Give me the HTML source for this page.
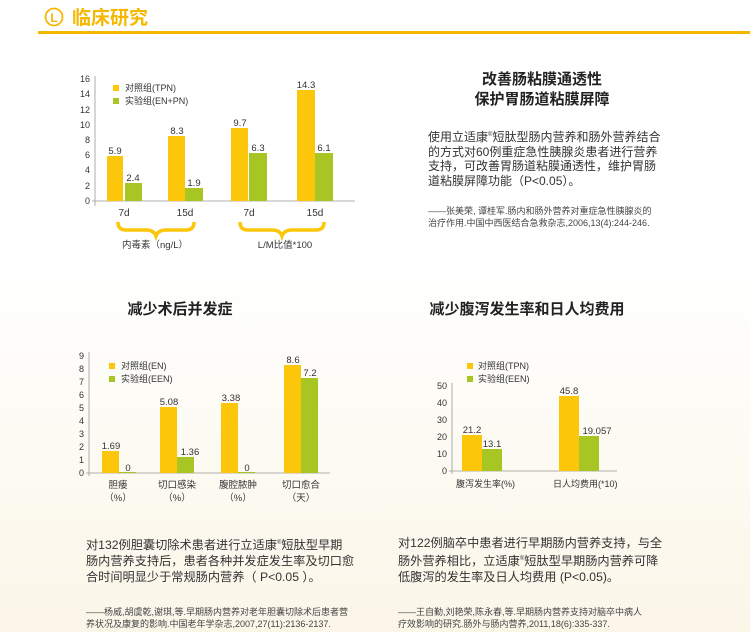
<!DOCTYPE html>
<html><head><meta charset="utf-8"><style>
body{margin:0;width:750px;height:632px;overflow:hidden;background:linear-gradient(#fff 0,#fff 40%,#fbf6e8 100%);font-family:"Liberation Sans","Noto Sans CJK SC",sans-serif;position:relative;color:#222}
.t{position:absolute;white-space:nowrap}
</style></head><body>
<svg width="750" height="632" style="position:absolute;left:0;top:0" font-family="Liberation Sans, Noto Sans CJK SC, sans-serif">
<circle cx="54" cy="17" r="8.5" fill="none" stroke="#f5b800" stroke-width="1.8"/>
<text x="54" y="22" font-size="12" font-weight="bold" fill="#f5b800" text-anchor="middle">L</text>
<text x="72" y="24" font-size="19" font-weight="bold" fill="#f5b800">临床研究</text>
<rect x="38" y="31" width="712" height="3" fill="#f5b800"/>

<g font-size="9" fill="#333">
<line x1="95" y1="76" x2="95" y2="206" stroke="#999" stroke-width="0.8"/>
<line x1="92" y1="201" x2="355" y2="201" stroke="#999" stroke-width="0.8"/>
<g text-anchor="end">
<text x="90" y="204">0</text><text x="90" y="189">2</text><text x="90" y="173">4</text><text x="90" y="158">6</text><text x="90" y="143">8</text><text x="90" y="128">10</text><text x="90" y="113">12</text><text x="90" y="97">14</text><text x="90" y="82">16</text>
</g>
<rect x="107" y="156" width="16" height="45" fill="#fcc60a"/><rect x="125" y="183" width="17" height="18" fill="#a8c623"/>
<rect x="168" y="136" width="17" height="65" fill="#fcc60a"/><rect x="185" y="188" width="18" height="13" fill="#a8c623"/>
<rect x="231" y="128" width="17" height="73" fill="#fcc60a"/><rect x="249" y="153" width="18" height="48" fill="#a8c623"/>
<rect x="297" y="90" width="18" height="111" fill="#fcc60a"/><rect x="315" y="153" width="18" height="48" fill="#a8c623"/>
<g text-anchor="middle" font-size="9.5">
<text x="115" y="154">5.9</text><text x="133" y="181">2.4</text>
<text x="177" y="134">8.3</text><text x="194" y="186">1.9</text>
<text x="240" y="126">9.7</text><text x="258" y="151">6.3</text>
<text x="306" y="88">14.3</text><text x="324" y="151">6.1</text>
<text x="124" y="216" font-size="10">7d</text><text x="185" y="216" font-size="10">15d</text>
<text x="249" y="216" font-size="10">7d</text><text x="315" y="216" font-size="10">15d</text>
<text x="155" y="248">内毒素（ng/L）</text><text x="285" y="248">L/M比值*100</text>
</g>
<rect x="113" y="85" width="6" height="6" fill="#fcc60a"/><text x="125" y="91">对照组(TPN)</text>
<rect x="113" y="98" width="6" height="6" fill="#a8c623"/><text x="125" y="104">实验组(EN+PN)</text>
<path d="M118 222 q0 8 8 8 h20 q8 0 10 6 q2 -6 10 -6 h20 q8 0 8 -8" fill="none" stroke="#fcc60a" stroke-width="3.5"/>
<path d="M240 222 q0 8 8 8 h24 q8 0 10 6 q2 -6 10 -6 h24 q8 0 8 -8" fill="none" stroke="#fcc60a" stroke-width="3.5"/>
</g>

<g font-size="9" fill="#333">
<line x1="89" y1="352" x2="89" y2="476" stroke="#999" stroke-width="0.8"/>
<line x1="86" y1="473" x2="330" y2="473" stroke="#999" stroke-width="0.8"/>
<g text-anchor="end">
<text x="84" y="476">0</text><text x="84" y="463">1</text><text x="84" y="450">2</text><text x="84" y="437">3</text><text x="84" y="424">4</text><text x="84" y="411">5</text><text x="84" y="398">6</text><text x="84" y="385">7</text><text x="84" y="372">8</text><text x="84" y="359">9</text>
</g>
<rect x="102" y="451" width="17" height="22" fill="#fcc60a"/><rect x="119" y="472" width="17" height="1" fill="#a8c623"/>
<rect x="160" y="407" width="17" height="66" fill="#fcc60a"/><rect x="177" y="457" width="17" height="16" fill="#a8c623"/>
<rect x="221" y="403" width="17" height="70" fill="#fcc60a"/><rect x="238" y="472" width="17" height="1" fill="#a8c623"/>
<rect x="284" y="365" width="17" height="108" fill="#fcc60a"/><rect x="301" y="378" width="17" height="95" fill="#a8c623"/>
<g text-anchor="middle" font-size="9.5">
<text x="111" y="449">1.69</text><text x="128" y="471">0</text>
<text x="169" y="405">5.08</text><text x="190" y="455">1.36</text>
<text x="231" y="401">3.38</text><text x="247" y="471">0</text>
<text x="293" y="363">8.6</text><text x="310" y="376">7.2</text>
<text x="118" y="488">胆瘘</text><text x="118" y="501">（%）</text>
<text x="177" y="488">切口感染</text><text x="177" y="501">（%）</text>
<text x="238" y="488">腹腔脓肿</text><text x="238" y="501">（%）</text>
<text x="301" y="488">切口愈合</text><text x="301" y="501">（天）</text>
</g>
<rect x="109" y="363" width="6" height="6" fill="#fcc60a"/><text x="121" y="369">对照组(EN)</text>
<rect x="109" y="376" width="6" height="6" fill="#a8c623"/><text x="121" y="382">实验组(EEN)</text>
</g>

<g font-size="9" fill="#333">
<line x1="452" y1="383" x2="452" y2="474" stroke="#999" stroke-width="0.8"/>
<line x1="449" y1="471" x2="617" y2="471" stroke="#999" stroke-width="0.8"/>
<g text-anchor="end">
<text x="447" y="474">0</text><text x="447" y="457">10</text><text x="447" y="440">20</text><text x="447" y="423">30</text><text x="447" y="406">40</text><text x="447" y="389">50</text>
</g>
<rect x="462" y="435" width="20" height="36" fill="#fcc60a"/><rect x="482" y="449" width="20" height="22" fill="#a8c623"/>
<rect x="559" y="396" width="20" height="75" fill="#fcc60a"/><rect x="579" y="436" width="20" height="35" fill="#a8c623"/>
<g text-anchor="middle" font-size="9.5">
<text x="472" y="433">21.2</text><text x="492" y="447">13.1</text>
<text x="569" y="394">45.8</text><text x="597" y="434">19.057</text>
</g>
<text x="456" y="487">腹泻发生率(%)</text><text x="553" y="487">日人均费用(*10)</text>
<rect x="467" y="363" width="6" height="6" fill="#fcc60a"/><text x="478" y="369">对照组(TPN)</text>
<rect x="467" y="376" width="6" height="6" fill="#a8c623"/><text x="478" y="382">实验组(EEN)</text>
</g>
</svg>

<div class="t" style="left:442px;top:70px;width:200px;text-align:center;font-size:15px;font-weight:bold;line-height:20px">改善肠粘膜通透性<br>保护胃肠道粘膜屏障</div>
<div class="t" style="left:428px;top:128px;font-size:12px;line-height:14.5px;color:#333">使用立适康<sup style="font-size:6px">®</sup>短肽型肠内营养和肠外营养结合<br>的方式对60例重症急性胰腺炎患者进行营养<br>支持，可改善胃肠道粘膜通透性，维护胃肠<br>道粘膜屏障功能（P&lt;0.05）。</div>
<div class="t" style="left:428px;top:205px;font-size:9px;line-height:12px;color:#444">——张美荣, 谭桂军.肠内和肠外营养对重症急性胰腺炎的<br>治疗作用.中国中西医结合急救杂志,2006,13(4):244-246.</div>

<div class="t" style="left:80px;top:298px;width:200px;text-align:center;font-size:15px;font-weight:bold">减少术后并发症</div>
<div class="t" style="left:407px;top:298px;width:240px;text-align:center;font-size:15px;font-weight:bold">减少腹泻发生率和日人均费用</div>

<div class="t" style="left:86px;top:535px;font-size:12.2px;line-height:16px;color:#333">对132例胆囊切除术患者进行立适康<sup style="font-size:6px">®</sup>短肽型早期<br>肠内营养支持后，患者各种并发症发生率及切口愈<br>合时间明显少于常规肠内营养（ P&lt;0.05 ）。</div>
<div class="t" style="left:398px;top:535px;font-size:12.2px;line-height:16px;color:#333">对122例脑卒中患者进行早期肠内营养支持，与全<br>肠外营养相比，立适康<sup style="font-size:6px">®</sup>短肽型早期肠内营养可降<br>低腹泻的发生率及日人均费用 (P&lt;0.05)。</div>
<div class="t" style="left:86px;top:606px;font-size:9px;line-height:12px;color:#444">——杨威,胡虞乾,谢琪,等.早期肠内营养对老年胆囊切除术后患者营<br>养状况及康复的影响.中国老年学杂志,2007,27(11):2136-2137.</div>
<div class="t" style="left:398px;top:606px;font-size:9px;line-height:12px;color:#444">——王自勤,刘艳荣,陈永春,等.早期肠内营养支持对脑卒中病人<br>疗效影响的研究.肠外与肠内营养,2011,18(6):335-337.</div>
</body></html>
